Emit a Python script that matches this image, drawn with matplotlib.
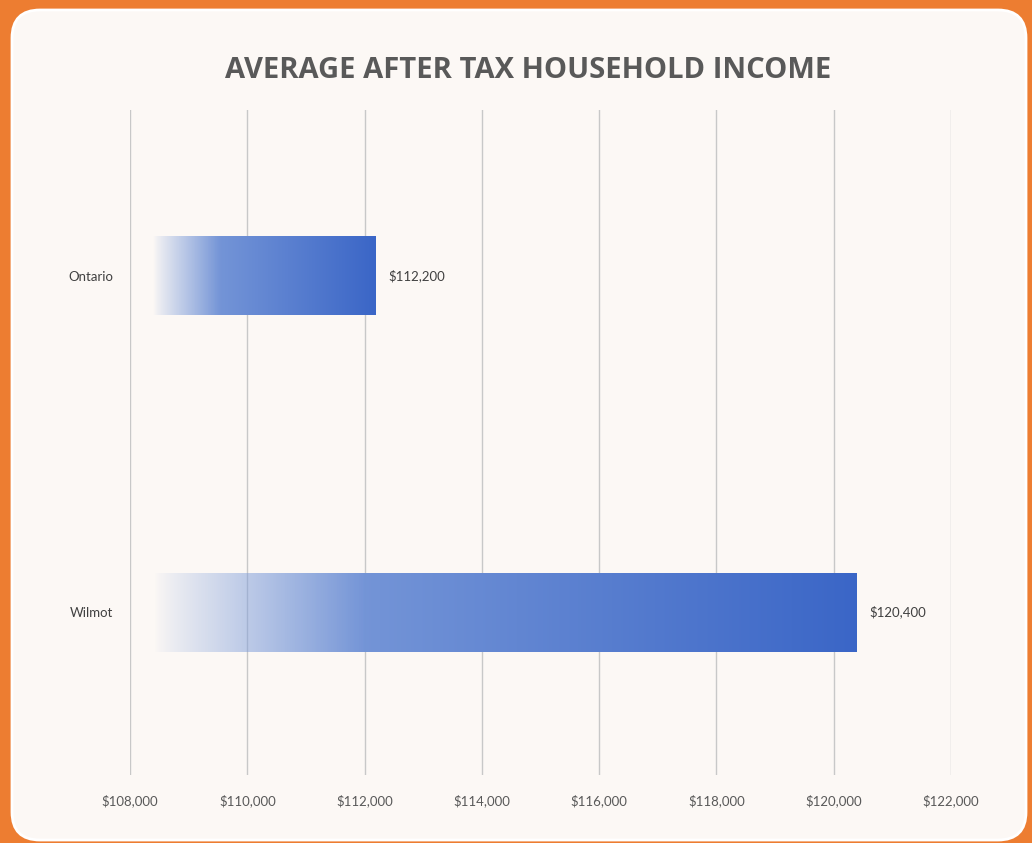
import numpy as np
import matplotlib.pyplot as plt
from matplotlib.patches import FancyBboxPatch
from matplotlib.ticker import FuncFormatter

# average after-tax household income
regions = ['Wilmot', 'Ontario']
incomes = [120400, 112200]
x_ticks = [108000, 110000, 112000, 114000, 116000, 118000, 120000, 122000]

orange = '#ED7D31'
panel = '#FCF8F5'
grey_text = '#595959'

fig = plt.figure(figsize=(10.32, 8.43), dpi=100, facecolor=orange)

# rounded cream card on the orange background
card = FancyBboxPatch((0.12, 0.03), 10.14, 8.30,
                      boxstyle='round,pad=0,rounding_size=0.28',
                      transform=fig.dpi_scale_trans,
                      facecolor=panel, edgecolor='white', linewidth=2, zorder=-5)
fig.patches.append(card)

fig.text(528 / 1032, 1 - 70 / 843, 'AVERAGE AFTER TAX HOUSEHOLD INCOME',
         ha='center', va='center', fontsize=21, fontweight='bold',
         family='Open Sans', color=grey_text)

ax = fig.add_axes([130 / 1032, 68 / 843, 821 / 1032, 665 / 843])
ax.set_zorder(2)
ax.set_facecolor('none')

bar_h = 0.235
pos = np.arange(len(regions))

# bars fade in from transparent on the left to solid blue on the right
def gradient_bar(y, value):
    n = 256
    t = np.linspace(0, 1, n)
    alpha = np.clip(t / 0.3, 0, 1) ** 0.8
    c0 = np.array([0.55, 0.66, 0.87])
    c1 = np.array([0.23, 0.40, 0.78])
    rgb = c0[None, :] * (1 - t[:, None]) + c1[None, :] * t[:, None]
    img = np.dstack([rgb[None, :, 0], rgb[None, :, 1], rgb[None, :, 2], alpha[None, :]])
    ax.imshow(img, extent=(x_ticks[0] + 400, value, y - bar_h / 2, y + bar_h / 2),
              aspect='auto', interpolation='bilinear', zorder=2)

for y, v in zip(pos, incomes):
    gradient_bar(y, v)
    ax.annotate('${:,.0f}'.format(v), (v, y), xytext=(9, 0),
                textcoords='offset points', ha='left', va='center',
                fontsize=9.5, family='Lato', color='#404040')

ax.set_xlim(x_ticks[0], x_ticks[-1])
ax.set_ylim(-0.485, 1.494)
ax.set_xticks(x_ticks)
ax.xaxis.set_major_formatter(FuncFormatter(lambda v, p: '${:,.0f}'.format(v)))
ax.set_yticks(pos)
ax.set_yticklabels(regions)
ax.grid(axis='x', color='#C8C8C8', linewidth=1, zorder=1)
ax.set_axisbelow(True)
for s in ax.spines.values():
    s.set_visible(False)
ax.tick_params(axis='x', length=0, pad=14, labelsize=9.5, labelcolor=grey_text)
ax.tick_params(axis='y', length=0, pad=12, labelsize=9.5, labelcolor='#404040')
for lbl in ax.get_xticklabels() + ax.get_yticklabels():
    lbl.set_family('Lato')

fig.savefig('out.png', dpi=100, facecolor=orange)
